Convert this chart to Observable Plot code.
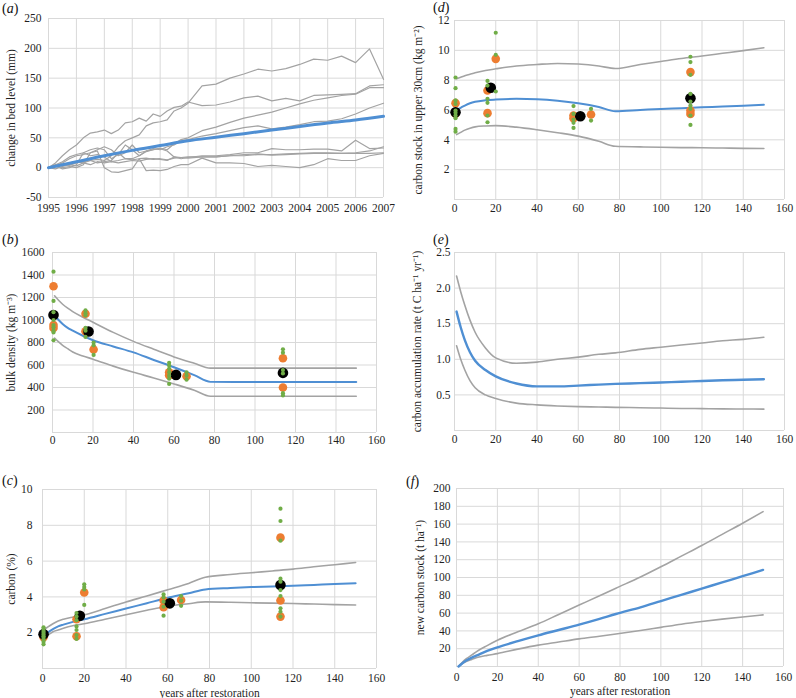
<!DOCTYPE html>
<html><head><meta charset="utf-8">
<script src="https://cdn.jsdelivr.net/npm/d3@7"></script>
<script src="https://cdn.jsdelivr.net/npm/@observablehq/plot@0.6"></script>
<style>
body{margin:0;background:#fff;}
#wrap{position:relative;width:796px;height:698px;overflow:hidden;font-family:'Liberation Serif','Times New Roman',serif;}
.panel{position:absolute;}
.panel svg{overflow:visible;font-family:'Liberation Serif','Times New Roman',serif !important;}
.panel svg text{font-family:'Liberation Serif','Times New Roman',serif !important;}
.tag{position:absolute;font-size:14px;color:#111;line-height:1;}
</style></head><body><div id="wrap"></div>
<script>
// ---------- (a) change in bed level ----------
const bedTimes = [1995,1995.25,1995.5,1995.75,1996,1996.25,1996.5,1996.75,1997,1997.25,1997.5,1997.75,1998,1998.25,1998.5,1998.75,1999,1999.25,1999.5,1999.75,2000,2000.5,2001,2001.5,2002,2002.5,2003,2003.5,2004,2004.5,2005,2005.5,2006,2006.5,2007];
const bed1 = [0,3,5,4,8,10,12,14,12,20,35,45,50,55,70,75,77,80,95,100,108,137,140,150,157,165,162,166,173,182,180,187,176,199,148];
const bed2 = [0,8,20,30,38,50,58,60,63,57,63,75,77,83,78,90,86,95,101,103,110,104,105,110,117,120,112,116,112,121,122,123,124,137,139];
const bed3 = [0,5,10,18,22,25,30,33,30,15,22,38,30,20,27,30,33,30,40,47,50,62,68,76,83,88,93,100,107,113,117,121,123,134,134];
const bed4 = [0,3,8,15,20,22,25,30,35,30,20,25,38,25,28,32,30,35,38,45,47,53,57,62,67,70,65,68,72,77,78,82,90,100,108];
const bed5 = [0,5,3,8,10,8,12,8,10,12,25,15,15,20,28,30,32,28,18,15,17,20,20,22,25,25,32,30,30,31,31,28,46,32,33];
const bed6 = [0,-2,2,5,3,8,5,10,8,10,8,10,12,11,14,15,14,12,18,17,16,18,18,20,20,22,22,23,24,25,25,24,25,28,35];
const bed7 = [0,3,-2,0,5,25,20,22,18,10,12,15,13,15,16,14,15,13,16,17,18,18,18,20,22,23,21,22,23,24,24,24,24,24,25];
const bed8 = [0,2,0,2,0,5,25,28,0,-7,-8,-5,-2,15,-5,-4,-5,-3,2,5,5,16,8,8,7,2,4,2,0,5,15,12,12,20,24];
const trendYears = [1995,1996,1997,1998,1999,2000,2001,2002,2003,2004,2005,2006,2007];
const bedTrend = [0,10,20,29,37,45,51,57,63,69,75,80,86];

// ---------- model curves (b)-(f) ----------
const modelYears = [1,3,5,7.5,10,15,20,30,40,50,60,70,78,90,100,110,120,130,140,150];
const bulkUpper = [1215,1175,1140,1105,1075,1025,980,890,810,740,672,615,572,572,572,572,572,572,572,572];
const bulkMean  = [1040,1000,965,930,905,860,820,765,712,645,580,510,450,448,448,448,448,448,448,448];
const bulkLower = [840,805,775,745,715,680,652,590,535,485,432,375,322,322,322,322,322,322,322,322];
const carbUpper = [2.2,2.35,2.5,2.65,2.75,2.88,3.0,3.35,3.72,4.05,4.4,4.75,5.1,5.25,5.35,5.45,5.55,5.68,5.8,5.92];
const carbMean  = [1.9,2.05,2.2,2.35,2.45,2.62,2.75,3.05,3.35,3.65,3.95,4.2,4.42,4.5,4.55,4.58,4.62,4.67,4.72,4.76];
const carbLower = [1.75,1.9,2.05,2.15,2.25,2.4,2.5,2.75,3.0,3.25,3.48,3.62,3.72,3.7,3.67,3.65,3.63,3.6,3.57,3.55];
const stockUpper = [8.1,8.2,8.3,8.4,8.5,8.65,8.76,8.95,9.05,9.12,9.08,8.95,8.78,9.05,9.25,9.45,9.62,9.8,9.98,10.17];
const stockMean  = [6.0,6.15,6.3,6.45,6.55,6.65,6.7,6.75,6.72,6.62,6.45,6.2,5.92,6.0,6.07,6.12,6.18,6.23,6.29,6.35];
const stockLower = [4.35,4.5,4.65,4.78,4.87,4.93,4.95,4.85,4.68,4.48,4.25,3.9,3.57,3.53,3.5,3.48,3.47,3.45,3.43,3.42];
const rateUpper = [2.17,1.95,1.76,1.55,1.38,1.16,1.02,0.945,0.96,1.0,1.03,1.07,1.09,1.14,1.17,1.2,1.23,1.26,1.28,1.31];
const rateMean  = [1.67,1.45,1.27,1.1,0.98,0.85,0.76,0.66,0.62,0.62,0.63,0.645,0.655,0.665,0.675,0.685,0.695,0.705,0.712,0.72];
const rateLower = [1.19,1.0,0.85,0.7,0.6,0.5,0.45,0.385,0.36,0.345,0.335,0.33,0.325,0.32,0.315,0.31,0.307,0.304,0.302,0.30];
const newUpper = [0,5,9,13,17,23.5,29.5,39,48,58.5,69,79.5,88,100.5,112,124,136,148.5,161,174];
const newMean  = [0,4,7,10,12.5,17.5,21.5,28.5,35,41,47,53.5,59,66.5,73.5,80.5,87.5,94.5,101.5,108.5];
const newLower = [0,3.5,6,8,10,12.5,14.5,19.5,24,27.5,31,34,36.5,40.5,44,47.5,50.5,53.2,55.7,58];

// ---------- observations ----------
// green = samples, orange = cores, black = site means
const bulkSampleAge = [0.5,0.5,0.5,0.5,0.5,0.5,0.5,0.5,0.5,16.3,16.3,16.3,16.3,16.3,16.3,20.3,20.3,20.3,57.6,57.6,57.6,57.6,57.6,57.6,57.6,66.2,66.2,66.2,113.8,113.8,113.8,113.8,113.8,113.8];
const bulkSample = [1430,1170,1070,1000,955,935,905,890,820,1085,1060,1040,930,905,850,800,775,690,620,595,565,535,505,478,432,535,505,470,740,710,555,525,350,330];
const bulkCoreAge = [0.5,0.5,0.5,16.3,16.3,20.3,57.6,57.6,66.2,113.8,113.8];
const bulkCore = [1300,955,930,1055,900,738,535,510,500,660,400];
const bulkSiteAge = [0.5,17.8,61,113.8];
const bulkSite = [1045,898,512,530];

const carbSampleAge = [0.5,0.5,0.5,0.5,0.5,0.5,0.5,0.5,0.5,0.5,16.3,16.3,16.3,16.3,16.3,16.3,16.3,20,20,20,20,58,58,58,58,58,66.4,66.4,66.4,114,114,114,114,114,114,114,114,114,114];
const carbSample = [2.3,2.2,2.1,2.0,1.9,1.8,1.7,1.6,1.5,1.35,3.1,2.9,2.7,2.35,2.15,1.87,1.65,4.7,4.55,4.42,3.55,4.14,3.97,3.73,3.45,2.95,4.05,3.79,3.5,8.93,8.24,7.14,5.02,4.85,4.38,4.05,3.36,3.17,2.9];
const carbCoreAge = [0.5,0.5,16.3,16.3,20,58,58,66.4,114,114,114];
const carbCore = [1.9,1.75,2.75,1.8,4.25,3.8,3.42,3.83,7.31,3.8,2.9];
const carbSiteAge = [0.5,17.9,61,114];
const carbSite = [1.92,2.95,3.64,4.66];

const stockSampleAge = [0.5,0.5,0.5,0.5,0.5,0.5,0.5,0.5,0.5,0.5,16,16,16,16,16,16,20,20,20,57.7,57.7,57.7,57.7,57.7,66.2,66.2,114.4,114.4,114.4,114.4,114.4,114.4,114.4,114.4,114.4];
const stockSample = [8.18,7.46,6.64,6.41,5.96,5.81,5.63,5.45,4.73,4.55,7.95,7.64,6.75,6.48,5.63,5.18,11.18,9.7,7.24,6.26,5.74,5.36,5.14,4.8,6.08,5.29,9.57,9.21,8.36,7.08,6.57,6.3,6.08,5.63,5.0];
const stockCoreAge = [0.5,0.5,16,16,20,57.7,57.7,66.2,114.4,114.4,114.4];
const stockCore = [6.46,5.75,7.31,5.79,9.43,5.63,5.45,5.7,8.54,5.96,5.74];
const stockSiteAge = [0.5,17.6,61,114.4];
const stockSite = [5.85,7.49,5.58,6.79];

// ---------- tick labels ----------
const yearTicks = d3.range(1995, 2008);
const bedTicks = [-50,0,50,100,150,200,250];
const ageTicks = [0,20,40,60,80,100,120,140,160];
const bulkTicks = [200,400,600,800,1000,1200,1400,1600];
const carbTicks = [2,4,6,8,10];
const stockTicks = [2,4,6,8,10,12];
const rateTicks = [0.5,1.0,1.5,2.0,2.5];
const newTicks = [20,40,60,80,100,120,140,160,180,200];

// ---------- build ----------
const FONT = "'Liberation Serif','Times New Roman',serif";
const GRID = "#d9d9d9", GRAY = "#a3a3a3", BLUE = "#4f8fd3", GREEN = "#70ad47", ORANGE = "#ed7d31";
const wrap = document.getElementById("wrap");
const plain = d => String(d);

function panel(o) {
  const div = document.createElement("div");
  div.className = "panel";
  div.style.left = o.left + "px"; div.style.top = o.top + "px";
  const svg = Plot.plot({
    width: o.width, height: o.height,
    marginLeft: o.m[0], marginRight: o.m[1], marginTop: o.m[2], marginBottom: o.m[3],
    style: {fontFamily: FONT, fontSize: "11.5px", color: "#1f1f1f", background: "none"},
    x: {domain: o.xDomain}, y: {domain: o.yDomain},
    marks: [
      Plot.gridX(o.xTicks, {stroke: GRID, strokeOpacity: 1}),
      Plot.gridY([o.yDomain[0], ...o.yTicks], {stroke: GRID, strokeOpacity: 1}),
      Plot.axisX(o.xTicks, {tickSize: 0, tickPadding: o.xPad ?? 5, tickFormat: plain,
        label: o.xlabel ?? null, labelAnchor: "center", labelArrow: "none", labelOffset: 28}),
      Plot.axisY(o.yTicks, {tickSize: 0, tickPadding: o.yPad ?? 6, tickFormat: o.yFmt ?? plain,
        label: o.ylabel, labelAnchor: "center", labelArrow: "none", labelOffset: o.yOff}),
      ...o.marks
    ]
  });
  div.appendChild(svg);
  wrap.appendChild(div);
  const tag = document.createElement("div");
  tag.className = "tag";
  tag.style.left = o.tagPos[0] + "px"; tag.style.top = o.tagPos[1] + "px";
  tag.innerHTML = "(<i>" + o.tag + "</i>)";
  wrap.appendChild(tag);
}

function modelMarks(lo, mid, hi, bw = 2) {
  const tbl = modelYears.map((t, i) => ({t, lo: lo[i], mid: mid[i], hi: hi[i]}));
  return [
    Plot.line(tbl, {x: "t", y: "hi", stroke: GRAY, strokeWidth: 1.6, curve: "monotone-x"}),
    Plot.line(tbl, {x: "t", y: "lo", stroke: GRAY, strokeWidth: 1.6, curve: "monotone-x"}),
    Plot.line(tbl, {x: "t", y: "mid", stroke: BLUE, strokeWidth: bw, curve: "monotone-x"})
  ];
}
function obsMarks(sa, sv, ca, cv, ma, mv) {
  const s = sa.map((t, i) => ({t, v: sv[i]}));
  const c = ca.map((t, i) => ({t, v: cv[i]}));
  const m = ma.map((t, i) => ({t, v: mv[i]}));
  return [
    Plot.dot(c, {x: "t", y: "v", r: 4.3, fill: ORANGE, stroke: "none"}),
    Plot.dot(m, {x: "t", y: "v", r: 5.3, fill: "#000", stroke: "none"}),
    Plot.dot(s, {x: "t", y: "v", r: 2.1, fill: GREEN, stroke: "none"})
  ];
}

// (a)
const bedSeries = [bed1, bed2, bed3, bed4, bed5, bed6, bed7, bed8];
const bedTbl = bedSeries.flatMap((s, k) => bedTimes.map((t, i) => ({t, v: s[i], id: k})));
const trendTbl = trendYears.map((t, i) => ({t, v: bedTrend[i]}));
panel({left: 0, top: 0, width: 400, height: 225, m: [48, 17, 18, 28],
  xDomain: [1995, 2007], xTicks: yearTicks, xPad: 6,
  yDomain: [-50, 250], yTicks: bedTicks, ylabel: "change in bed level (mm)", yOff: 42, yPad: 7,
  tag: "a", tagPos: [2, 2],
  marks: [
    Plot.line(bedTbl, {x: "t", y: "v", z: "id", stroke: GRAY, strokeWidth: 1.2}),
    Plot.line(trendTbl, {x: "t", y: "v", stroke: BLUE, strokeWidth: 3, curve: "monotone-x"})
  ]});

// (b)
panel({left: 0, top: 225, width: 400, height: 230, m: [52, 24, 27, 23],
  xDomain: [0, 160], xTicks: ageTicks, xPad: 3,
  yDomain: [0, 1600], yTicks: bulkTicks, ylabel: "bulk density (kg m\u207B\u00B3)", yOff: 46, yPad: 8,
  tag: "b", tagPos: [2, 233],
  marks: [...modelMarks(bulkLower, bulkMean, bulkUpper),
    ...obsMarks(bulkSampleAge, bulkSample, bulkCoreAge, bulkCore, bulkSiteAge, bulkSite)]});

// (c)
panel({left: 0, top: 455, width: 400, height: 243, m: [42, 24, 34, 30],
  xDomain: [0, 160], xTicks: ageTicks, xPad: 5, xlabel: "years after restoration",
  yDomain: [0, 10], yTicks: carbTicks, ylabel: "carbon (%)", yOff: 36, yPad: 10,
  tag: "c", tagPos: [2, 474],
  marks: [...modelMarks(carbLower, carbMean, carbUpper),
    ...obsMarks(carbSampleAge, carbSample, carbCoreAge, carbCore, carbSiteAge, carbSite)]});

// (d)
panel({left: 400, top: 0, width: 396, height: 225, m: [54, 12, 20, 26],
  xDomain: [0, 160], xTicks: ageTicks, xPad: 4,
  yDomain: [0, 12], yTicks: stockTicks, ylabel: "carbon stock in upper 30cm (kg m\u207B\u00B2)", yOff: 41, yPad: 5,
  tag: "d", tagPos: [433, 1],
  marks: [...modelMarks(stockLower, stockMean, stockUpper),
    ...obsMarks(stockSampleAge, stockSample, stockCoreAge, stockCore, stockSiteAge, stockSite)]});

// (e)
panel({left: 400, top: 225, width: 396, height: 230, m: [54, 12, 27, 25],
  xDomain: [0, 160], xTicks: ageTicks, xPad: 4,
  yDomain: [0, 2.5], yTicks: rateTicks, yFmt: d3.format(".1f"),
  ylabel: "carbon accumulation rate (t C ha\u207B\u00B9 yr\u207B\u00B9)", yOff: 42, yPad: 4,
  tag: "e", tagPos: [433, 233],
  marks: [...modelMarks(rateLower, rateMean, rateUpper, 2.4)]});

// (f)
panel({left: 400, top: 455, width: 396, height: 243, m: [56, 13, 33, 32],
  xDomain: [0, 160], xTicks: ageTicks, xPad: 6, xlabel: "years after restoration",
  yDomain: [0, 200], yTicks: newTicks, ylabel: "new carbon stock (t ha\u207B\u00B9)", yOff: 41, yPad: 6,
  tag: "f", tagPos: [406, 475],
  marks: [...modelMarks(newLower, newMean, newUpper, 2.4)]});
</script></body></html>
